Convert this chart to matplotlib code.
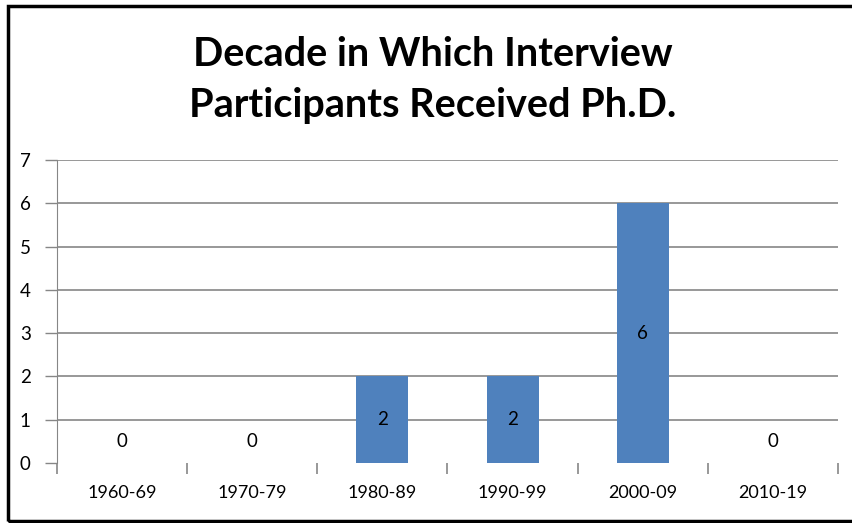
import matplotlib
matplotlib.use("Agg")
import matplotlib.pyplot as plt
import numpy as np
from matplotlib.patches import Rectangle

decades = ["1960-69", "1970-79", "1980-89", "1990-99", "2000-09", "2010-19"]
counts = [0, 0, 2, 2, 6, 0]
yticks = [0, 1, 2, 3, 4, 5, 6, 7]
title = "Decade in Which Interview\nParticipants Received Ph.D."

BAR = "#4f81bd"
GRID = "#868686"

plt.rcParams["font.family"] = ["Lato", "DejaVu Sans"]

W, H = 853, 523
fig = plt.figure(figsize=(W / 100, H / 100), dpi=100)
ax = fig.add_axes([57 / W, 1 - 463 / H, (838 - 57) / W, (463 - 160) / H])

x = np.arange(len(decades))
ax.bar(x, counts, width=0.4, color=BAR, zorder=3)

ax.set_xlim(-0.5, len(decades) - 0.5)
ax.set_ylim(0, 7)
ax.set_yticks(yticks)
ax.set_yticklabels([str(v) for v in yticks], fontsize=13.5)
ax.set_xticks(x)
ax.set_xticklabels(decades, fontsize=13)
ax.set_xticks(np.arange(-0.5, len(decades)), minor=True)
ax.tick_params(axis="x", which="major", length=0, pad=16)
ax.tick_params(axis="x", which="minor", length=8, color=GRID, width=1.2)
ax.tick_params(axis="y", length=9, color=GRID, width=1, pad=10)

for v in yticks[1:]:
    ax.axhline(v, color=GRID, lw=1.2, zorder=1)

for s in ["top", "right", "bottom"]:
    ax.spines[s].set_visible(False)
ax.spines["left"].set_color(GRID)
ax.spines["left"].set_bounds(0, 7)

for xi, c in zip(x, counts):
    ypos = c / 2 if c > 0 else 0.5
    ax.text(xi, ypos, str(c), ha="center", va="center", fontsize=13.5, zorder=4)

fig.text(433 / W, 1 - 80 / H, title, ha="center", va="center",
         fontsize=28.5, fontweight="bold", linespacing=1.45)

fig.patches.append(Rectangle((8 / W, 1 - 521 / H), (W + 5 - 8) / W, (521 - 6) / H,
                             transform=fig.transFigure, fill=False,
                             edgecolor="black", lw=2.5, clip_on=False))

fig.savefig("out.png", dpi=100)
